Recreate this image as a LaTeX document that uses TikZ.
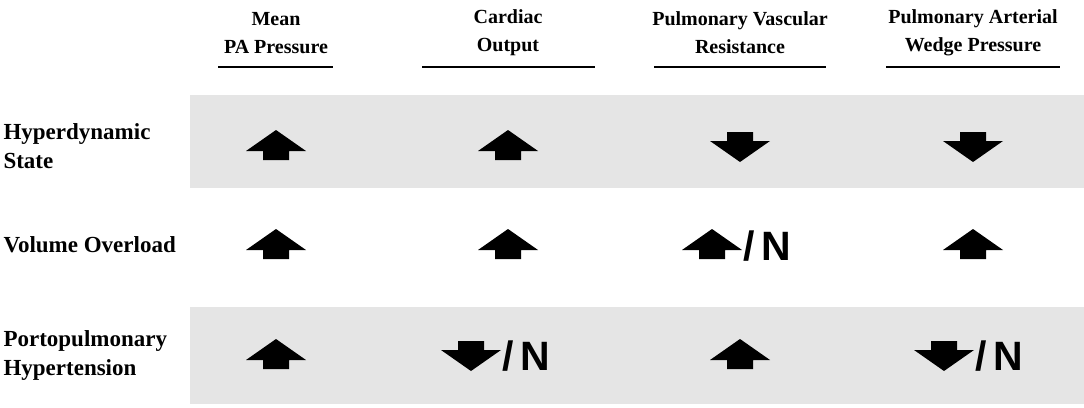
\documentclass[tikz,border=0pt]{standalone}
\usepackage{fontspec}
\setmainfont{Liberation Serif}
\newfontfamily\nfont{Liberation Sans}
\begin{document}
\begin{tikzpicture}[x=1pt,y=-1pt,
  hdr/.style={font=\bfseries\fontsize{20}{28}\selectfont,align=center},
  lbl/.style={font=\bfseries\fontsize{23}{29}\selectfont,align=left,anchor=west},
  band/.style={fill=black!10,draw=none},
  nn/.style={font=\nfont\bfseries\fontsize{41}{41}\selectfont,anchor=west,inner sep=0},
  up/.pic={\fill[black] (-30,5) -- (0,-16) -- (30,5) -- (13,5) -- (13,14) -- (-13,14) -- (-13,5) -- cycle;},
  down/.pic={\fill[black] (-30,-5) -- (0,16) -- (30,-5) -- (13,-5) -- (13,-14) -- (-13,-14) -- (-13,-5) -- cycle;}]
\useasboundingbox (0,0) rectangle (1084,407);
\fill[band] (190,95) rectangle (1084,188);
\fill[band] (190,307) rectangle (1084,404);
\node[hdr] (h1) at (276,33) {Mean\\PA Pressure};
\node[hdr] (h2) at (508,33) {Cardiac\\Output};
\node[hdr] (h3) at (740,33) {Pulmonary Vascular\\Resistance};
\node[hdr] (h4) at (973,33) {Pulmonary Arterial\\Wedge Pressure};
\draw[line width=1.5pt] (218,67) -- (333,67) (422,67) -- (595,67) (654,67) -- (826,67) (886,67) -- (1060,67);
\node[lbl] (r1) at (0,146) {Hyperdynamic\\State};
\node[lbl] (r2) at (0,245) {Volume Overload};
\node[lbl] (r3) at (0,355) {Portopulmonary\\Hypertension};
\pic at (276,146) {up};
\pic at (508,146) {up};
\pic at (740,146) {down};
\pic at (973,146) {down};
\pic at (276,245) {up};
\pic at (508,245) {up};
\pic at (712,245) {up};
\node[nn] (n1) at (743,246) {/\,N};
\pic at (973,245) {up};
\pic at (276,355) {up};
\pic at (471,355) {down};
\node[nn] (n2) at (502,356) {/\,N};
\pic at (740,355) {up};
\pic at (944,355) {down};
\node[nn] (n3) at (975,356) {/\,N};
\end{tikzpicture}
\end{document}
